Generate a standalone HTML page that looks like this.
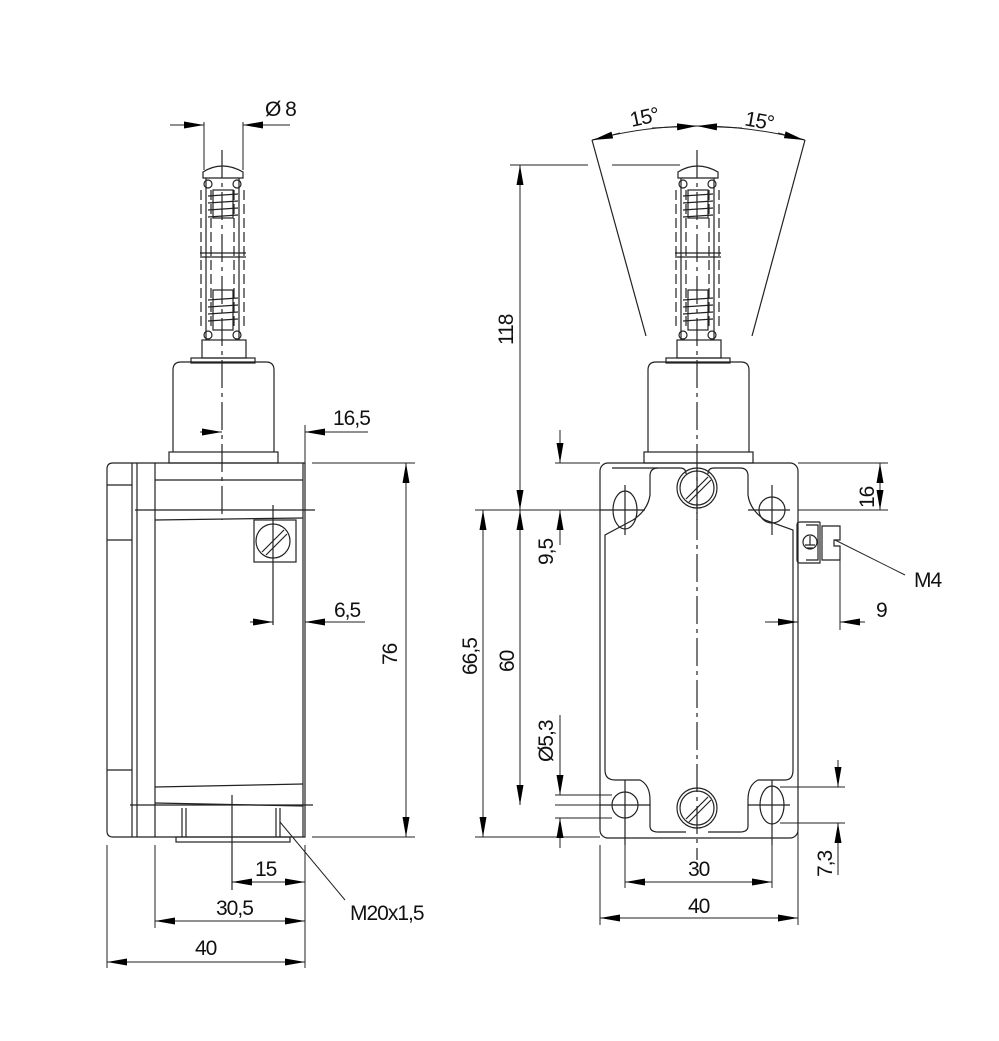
<!DOCTYPE html>
<html><head><meta charset="utf-8"><style>
html,body{margin:0;padding:0;background:#fff;}
svg{display:block}
text{font-family:"Liberation Sans Narrow","Liberation Sans",sans-serif;font-size:21px;fill:#111;letter-spacing:-1px}
</style></head><body>
<svg width="999" height="1041" viewBox="0 0 999 1041" xmlns="http://www.w3.org/2000/svg">
<defs>
<marker id="a" markerUnits="userSpaceOnUse" markerWidth="22" markerHeight="10" refX="20" refY="4" orient="auto">
<path d="M0,0.5 L20,4 L0,7.5 z" fill="#000"/></marker>
<g id="pl" fill="none" stroke="#222" stroke-width="1.2">
<path d="M203,178 L203,172 Q222,160 243,172 L243,178 Z"/>
<line x1="206" y1="178" x2="206" y2="340"/><line x1="239" y1="178" x2="239" y2="340"/>
<line x1="211" y1="190" x2="211" y2="330" stroke-dasharray="10,4"/><line x1="234" y1="190" x2="234" y2="330" stroke-dasharray="10,4"/>
<line x1="201" y1="190" x2="201" y2="330" stroke-dasharray="10,4"/><line x1="244" y1="190" x2="244" y2="330" stroke-dasharray="10,4"/>
<line x1="200" y1="253" x2="246" y2="253"/><line x1="200" y1="257" x2="246" y2="257"/>
<rect x="213" y="190" width="20" height="28"/><rect x="213" y="290" width="20" height="40"/>
<path d="M208,196 L238,194 M208,203 L238,201 M208,210 L238,208 M208,217 L238,215 M208,300 L238,298 M208,307 L238,305 M208,314 L238,312 M208,321 L238,319"/>
<circle cx="208" cy="184" r="4"/><circle cx="237" cy="184" r="4"/><circle cx="208" cy="335" r="4"/><circle cx="237" cy="335" r="4"/>
<rect x="202" y="340" width="44" height="18"/><rect x="191" y="358" width="64" height="5"/>
<path d="M173,452 L173,370 Q173,362 181,362 L266,362 Q274,362 274,370 L274,452"/>
<rect x="169" y="452" width="109" height="11"/>
<line x1="222" y1="150" x2="222" y2="520" stroke-dasharray="28,5,4,5"/>
</g>
</defs>
<g fill="none" stroke="#222" stroke-width="1.2">
<use href="#pl"/>
<use href="#pl" transform="translate(475,0)"/>
<path d="M113,463 L305,463 L305,837 L113,837 Q107,837 107,831 L107,469 Q107,463 113,463 Z"/>
<line x1="132" y1="463" x2="132" y2="837"/><line x1="137" y1="463" x2="137" y2="837"/><line x1="155" y1="463" x2="155" y2="837"/>
<line x1="303" y1="463" x2="303" y2="837"/>
<line x1="155" y1="480" x2="303" y2="480"/>
<line x1="135" y1="510" x2="315" y2="510"/><line x1="155" y1="520" x2="303" y2="518"/>
<line x1="155" y1="787" x2="303" y2="784"/><line x1="130" y1="805" x2="313" y2="805"/>
<line x1="155" y1="803" x2="303" y2="806"/>
<path d="M107,770 L132,770 M107,485 L132,485 M107,540 L132,540"/>
<rect x="254" y="520" width="42" height="42"/>
<circle cx="273" cy="541" r="17"/>
<path d="M262,552 L284,530 M266,555 L287,534"/>
<line x1="273" y1="505" x2="273" y2="625"/>
<rect x="176" y="837" width="114" height="5"/>
<path d="M182,808 L182,837 M186,808 L186,837 M276,808 L276,837 M280,808 L280,837"/>
<line x1="232" y1="795" x2="232" y2="890"/>
<rect x="600" y="463" width="198" height="375" rx="8"/>
<path d="M612,468 L680,468 Q686,468 686,474 M708,474 Q708,468 714,468 L740,468 Q748,468 748,476 L748,495 Q750,510 765,520 L793,530 L793,570"/>
<path d="M650,476 Q650,468 658,468 M650,476 L650,495 Q648,510 633,520 L605,535 L605,770"/>
<path d="M605,770 Q605,780 615,780 L640,780 Q650,785 650,800 L650,826 Q650,832 658,832 L686,832 M708,832 L740,832 Q748,832 748,826 L748,800 Q748,785 758,780 L785,780 Q793,780 793,770 L793,570"/>
<ellipse cx="625" cy="510" rx="12" ry="19"/><circle cx="772" cy="510" r="13"/>
<circle cx="625" cy="805" r="13"/><ellipse cx="772" cy="805" rx="12" ry="19"/>
<circle cx="697" cy="488" r="20"/><circle cx="697" cy="488" r="17"/>
<circle cx="697" cy="808" r="20"/><circle cx="697" cy="808" r="17"/>
<path d="M686,499 L708,477 M689,502 L711,480 M686,819 L708,797 M689,822 L711,800"/>
<line x1="697" y1="470" x2="697" y2="860" stroke-dasharray="28,5,4,5"/>
<path d="M600,510 L645,510 M625,485 L625,535 M748,510 L790,510 M772,485 L772,535 M600,805 L650,805 M625,780 L625,845 M748,805 L790,805 M772,780 L772,845"/>
<path d="M820,522 L800,522 Q797,522 797,525 L797,560 Q797,563 800,563 L820,563 L820,522 M806,525 L818,525 L818,560 L806,560 M822,526 L840,526 L840,540 L834,540 L834,546 L840,546 L840,560 L822,560 Z"/>
<circle cx="810" cy="542" r="7"/><path d="M810,536 L810,545 M805,545 L815,545 M807,548 L813,548"/>
<line x1="592" y1="140" x2="646" y2="336"/><line x1="805" y1="140" x2="752" y2="336"/>
<path d="M592,140 Q697,112 805,140" stroke-width="1"/>
</g>
<g stroke="#222" stroke-width="1" fill="none">
<path d="M204,122 L204,170 M243,122 L243,170 M305,425 L305,463 M312,463 L415,463 M312,837 L415,837 M305,615 L305,630 M107,845 L107,968 M155,845 L155,928 M305,845 L305,968 M232,845 L232,888"/>
<line x1="170" y1="125" x2="204" y2="125" marker-end="url(#a)"/>
<line x1="290" y1="125" x2="243" y2="125" marker-end="url(#a)"/>
<line x1="200" y1="432" x2="222" y2="432" marker-end="url(#a)"/>
<line x1="368" y1="432" x2="305" y2="432" marker-end="url(#a)"/>
<line x1="406" y1="650" x2="406" y2="463" marker-end="url(#a)"/>
<line x1="406" y1="650" x2="406" y2="837" marker-end="url(#a)"/>
<line x1="250" y1="622" x2="273" y2="622" marker-end="url(#a)"/>
<line x1="365" y1="622" x2="305" y2="622" marker-end="url(#a)"/>
<line x1="268" y1="882" x2="232" y2="882" marker-end="url(#a)"/>
<line x1="268" y1="882" x2="305" y2="882" marker-end="url(#a)"/>
<line x1="230" y1="921" x2="155" y2="921" marker-end="url(#a)"/>
<line x1="230" y1="921" x2="305" y2="921" marker-end="url(#a)"/>
<line x1="206" y1="962" x2="107" y2="962" marker-end="url(#a)"/>
<line x1="206" y1="962" x2="305" y2="962" marker-end="url(#a)"/>
<line x1="280" y1="822" x2="345" y2="900"/>
<path d="M510,165 L588,165 M612,165 L680,165 M475,510 L600,510 M555,463 L600,463 M475,837 L600,837 M555,805 L610,805 M555,795 L612,795 M555,818 L612,818 M798,463 L888,463 M798,510 L888,510 M798,630 L798,925 M840,560 L840,630 M600,845 L600,925 M625,845 L625,888 M772,845 L772,888 M780,787 L845,787 M780,823 L845,823"/>
<line x1="520" y1="340" x2="520" y2="165" marker-end="url(#a)"/>
<line x1="520" y1="340" x2="520" y2="510" marker-end="url(#a)"/>
<line x1="560" y1="430" x2="560" y2="463" marker-end="url(#a)"/>
<line x1="560" y1="545" x2="560" y2="510" marker-end="url(#a)"/>
<line x1="483" y1="670" x2="483" y2="510" marker-end="url(#a)"/>
<line x1="483" y1="670" x2="483" y2="837" marker-end="url(#a)"/>
<line x1="520" y1="660" x2="520" y2="510" marker-end="url(#a)"/>
<line x1="520" y1="660" x2="520" y2="805" marker-end="url(#a)"/>
<line x1="560" y1="715" x2="560" y2="795" marker-end="url(#a)"/>
<line x1="560" y1="848" x2="560" y2="818" marker-end="url(#a)"/>
<line x1="880" y1="490" x2="880" y2="463" marker-end="url(#a)"/>
<line x1="880" y1="490" x2="880" y2="510" marker-end="url(#a)"/>
<line x1="765" y1="622" x2="798" y2="622" marker-end="url(#a)"/>
<line x1="865" y1="622" x2="840" y2="622" marker-end="url(#a)"/>
<line x1="838" y1="760" x2="838" y2="787" marker-end="url(#a)"/>
<line x1="838" y1="875" x2="838" y2="823" marker-end="url(#a)"/>
<line x1="700" y1="882" x2="625" y2="882" marker-end="url(#a)"/>
<line x1="700" y1="882" x2="772" y2="882" marker-end="url(#a)"/>
<line x1="700" y1="918" x2="600" y2="918" marker-end="url(#a)"/>
<line x1="700" y1="918" x2="798" y2="918" marker-end="url(#a)"/>
<line x1="652" y1="128" x2="697" y2="126" marker-end="url(#a)"/>
<line x1="742" y1="128" x2="697" y2="126" marker-end="url(#a)"/>
<line x1="620" y1="133" x2="593" y2="140" marker-end="url(#a)"/>
<line x1="778" y1="133" x2="804" y2="140" marker-end="url(#a)"/>
<line x1="835" y1="540" x2="905" y2="575"/>
</g>
<g>
<text x="265" y="116">Ø 8</text>
<text x="333" y="425">16,5</text>
<text x="334" y="617">6,5</text>
<text x="255" y="876">15</text>
<text x="216" y="915">30,5</text>
<text x="195" y="955">40</text>
<text x="350" y="920">M20x1,5</text>
<text transform="translate(397,665) rotate(-90)">76</text>
<text x="630" y="124" transform="rotate(-12 645 118)">15°</text>
<text x="745" y="128" transform="rotate(10 760 120)">15°</text>
<text transform="translate(513,345) rotate(-90)">118</text>
<text transform="translate(553,565) rotate(-90)">9,5</text>
<text transform="translate(477,675) rotate(-90)">66,5</text>
<text transform="translate(514,672) rotate(-90)">60</text>
<text transform="translate(553,762) rotate(-90)">Ø5,3</text>
<text transform="translate(874,508) rotate(-90)">16</text>
<text x="914" y="587">M4</text>
<text x="876" y="617">9</text>
<text transform="translate(832,877) rotate(-90)">7,3</text>
<text x="688" y="876">30</text>
<text x="688" y="913">40</text>
</g>
</svg>
</body></html>
